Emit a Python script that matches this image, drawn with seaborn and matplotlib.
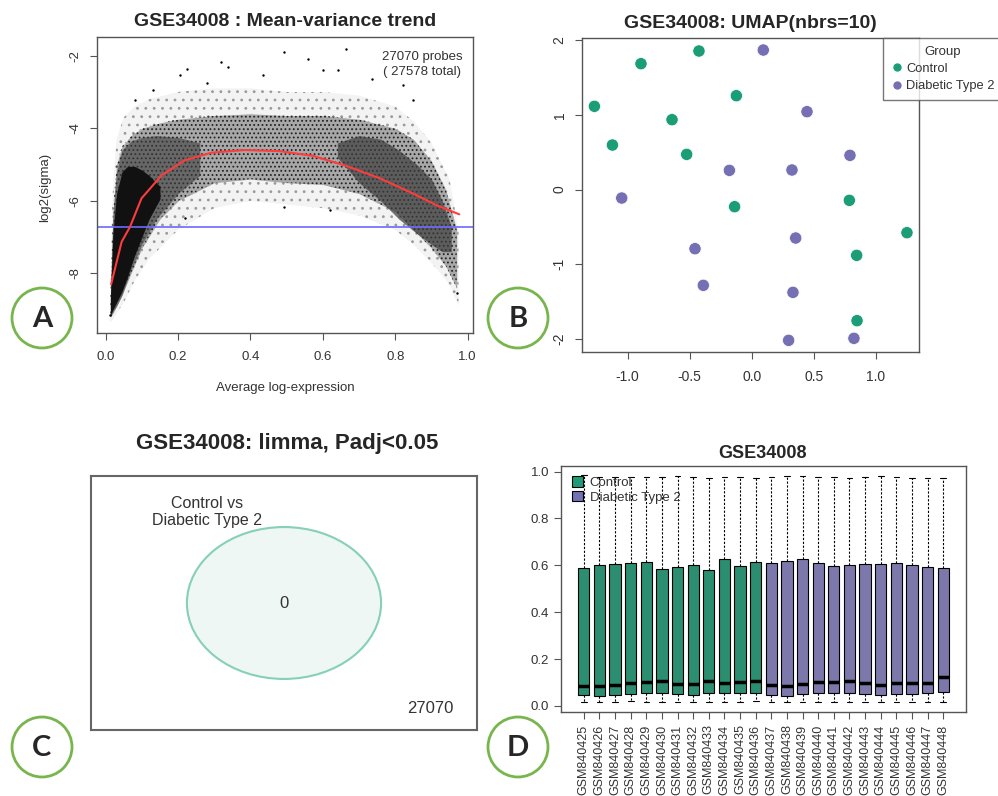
import matplotlib
matplotlib.use("Agg")
import matplotlib.pyplot as plt
from matplotlib.patches import Circle, Ellipse, Patch
from matplotlib.lines import Line2D
import seaborn as sns
import pandas as pd

W, H = 998, 796
GREEN = "#1b9e77"
PURPLE = "#7570b3"

# ---- A: mean-variance trend ----
trend_x = [0.015, 0.044, 0.067, 0.099, 0.155, 0.219, 0.293, 0.385, 0.481, 0.573,
           0.666, 0.758, 0.850, 0.914, 0.977]
trend_y = [-8.30, -7.13, -6.72, -5.93, -5.29, -4.88, -4.67, -4.60, -4.63, -4.76,
           -5.04, -5.38, -5.80, -6.12, -6.37]
flat_level = -6.72

# point cloud drawn as density bands (sparse / main / denser / densest)
outer_x = [0.012, 0.018, 0.03, 0.05, 0.08, 0.12, 0.2, 0.3, 0.4, 0.5, 0.6, 0.7, 0.8, 0.85, 0.9, 0.95, 0.975]
outer_hi = [-9.0, -6.0, -4.3, -3.7, -3.4, -3.2, -3.0, -2.9, -2.9, -3.0, -3.0, -3.1, -3.4, -3.8, -4.4, -5.4, -6.8]
outer_lo = [-9.35, -9.3, -9.1, -8.8, -8.2, -7.6, -6.8, -6.2, -6.0, -6.1, -6.2, -6.4, -6.8, -7.2, -7.7, -8.3, -8.9]
main_x = [0.013, 0.02, 0.03, 0.045, 0.07, 0.1, 0.15, 0.2, 0.3, 0.4, 0.5, 0.6, 0.7, 0.8, 0.85, 0.9, 0.94, 0.97]
main_hi = [-8.6, -6.3, -5.0, -4.5, -4.2, -4.0, -3.85, -3.75, -3.65, -3.6, -3.65, -3.65, -3.75, -4.0, -4.3, -4.9, -5.7, -6.8]
main_lo = [-9.2, -9.1, -8.9, -8.6, -8.0, -7.3, -6.5, -6.0, -5.5, -5.4, -5.5, -5.55, -5.8, -6.3, -6.8, -7.3, -7.8, -8.4]
dense_x = [0.013, 0.02, 0.03, 0.045, 0.07, 0.1, 0.14, 0.2, 0.26]
dense_hi = [-8.6, -6.4, -5.2, -4.6, -4.35, -4.25, -4.2, -4.25, -4.4]
dense_lo = [-9.2, -9.05, -8.9, -8.6, -7.9, -7.2, -6.5, -5.8, -5.3]
left_x = [0.013, 0.02, 0.03, 0.045, 0.06, 0.08, 0.1, 0.12, 0.15]
left_hi = [-8.7, -6.9, -5.8, -5.2, -5.05, -5.05, -5.15, -5.3, -5.6]
left_lo = [-9.15, -9.0, -8.8, -8.5, -8.1, -7.5, -7.0, -6.5, -5.95]
right_x = [0.64, 0.70, 0.76, 0.81, 0.86, 0.9, 0.93, 0.955]
right_hi = [-4.4, -4.2, -4.3, -4.6, -5.0, -5.4, -6.0, -6.7]
right_lo = [-4.8, -5.5, -6.0, -6.5, -6.9, -7.2, -7.4, -7.4]
stray_x = [0.493, 0.663, 0.601, 0.560, 0.320, 0.339, 0.224, 0.205, 0.822, 0.081, 0.131,
           0.643, 0.435, 0.735, 0.279, 0.850, 0.219, 0.492, 0.619, 0.970, 0.012]
stray_y = [-1.90, -1.81, -2.40, -2.08, -2.17, -2.31, -2.36, -2.54, -2.81, -3.23, -2.95,
           -2.40, -2.54, -2.63, -2.76, -3.23, -6.48, -6.17, -6.26, -8.55, -9.15]

# ---- B: UMAP ----
ctrl_x = [-0.426, -0.893, -1.268, -0.125, -0.643, -1.123, -0.525, -0.139, 0.785, 1.249, 0.844, 0.847]
ctrl_y = [1.853, 1.683, 1.113, 1.255, 0.934, 0.595, 0.470, -0.230, -0.145, -0.578, -0.881, -1.755]
dia_x = [0.092, 0.444, 0.790, -0.181, 0.323, -1.048, 0.353, -0.458, -0.391, 0.331, 0.296, 0.822]
dia_y = [1.866, 1.041, 0.457, 0.256, 0.261, -0.114, -0.649, -0.792, -1.282, -1.376, -2.018, -1.991]

# ---- C: venn ----
venn_label = "Control vs\nDiabetic Type 2"
venn_inside = "0"
venn_outside = "27070"

# ---- D: boxplot stats per sample ----
samples = ["GSM840425", "GSM840426", "GSM840427", "GSM840428", "GSM840429", "GSM840430",
           "GSM840431", "GSM840432", "GSM840433", "GSM840434", "GSM840435", "GSM840436",
           "GSM840437", "GSM840438", "GSM840439", "GSM840440", "GSM840441", "GSM840442",
           "GSM840443", "GSM840444", "GSM840445", "GSM840446", "GSM840447", "GSM840448"]
groups = ["Control"] * 12 + ["Diabetic Type 2"] * 12
whisk_lo = [0.016, 0.015, 0.016, 0.020, 0.017, 0.017, 0.016, 0.016, 0.017, 0.017, 0.017, 0.020,
            0.016, 0.016, 0.017, 0.018, 0.015, 0.017, 0.017, 0.017, 0.017, 0.017, 0.018, 0.017]
q1 = [0.047, 0.044, 0.046, 0.051, 0.053, 0.055, 0.050, 0.047, 0.054, 0.054, 0.055, 0.057,
      0.047, 0.044, 0.050, 0.053, 0.053, 0.055, 0.051, 0.047, 0.050, 0.051, 0.053, 0.061]
med = [0.087, 0.083, 0.091, 0.097, 0.101, 0.105, 0.094, 0.092, 0.108, 0.098, 0.104, 0.105,
       0.088, 0.083, 0.094, 0.101, 0.100, 0.105, 0.098, 0.088, 0.097, 0.097, 0.097, 0.124]
q3 = [0.590, 0.602, 0.606, 0.609, 0.616, 0.583, 0.595, 0.602, 0.580, 0.626, 0.598, 0.613,
      0.610, 0.617, 0.625, 0.609, 0.598, 0.600, 0.607, 0.607, 0.612, 0.603, 0.593, 0.588]
whisk_hi = [0.985, 0.976, 0.976, 0.976, 0.976, 0.976, 0.983, 0.976, 0.974, 0.979, 0.976, 0.974,
            0.979, 0.981, 0.981, 0.979, 0.976, 0.974, 0.979, 0.983, 0.979, 0.974, 0.974, 0.974]

sns.set_theme(style="ticks")
plt.rcParams["font.family"] = ["Liberation Sans", "DejaVu Sans"]
plt.rcParams["axes.unicode_minus"] = False
plt.rcParams["hatch.linewidth"] = 0.8

fig = plt.figure(figsize=(W / 100, H / 100), dpi=100)


def px_box(l, t, r, b):
    return [l / W, 1 - b / H, (r - l) / W, (b - t) / H]


def r_style(ax):
    for s in ax.spines.values():
        s.set_visible(True)
        s.set_color("#555555")
        s.set_linewidth(1.0)
    ax.tick_params(direction="out", length=5, width=0.8, color="#555555",
                   labelsize=9.5, labelcolor="#333333")


# panel A
axA = fig.add_axes(px_box(97, 37, 473, 333))
axA.fill_between(outer_x, outer_lo, outer_hi, facecolor="#f3f3f3", edgecolor="#9a9a9a",
                 hatch="..", linewidth=0)
axA.fill_between(main_x, main_lo, main_hi, color="#a8a8a8", linewidth=0)
axA.fill_between(main_x, main_lo, main_hi, facecolor="none", edgecolor="#222222",
                 hatch="....", linewidth=0)
axA.fill_between(dense_x, dense_lo, dense_hi, color="#3c3c3c", linewidth=0, alpha=0.6)
axA.fill_between(right_x, right_lo, right_hi, color="#3c3c3c", linewidth=0, alpha=0.7)
axA.fill_between(left_x, left_lo, left_hi, color="#111111", linewidth=0)
sns.scatterplot(x=stray_x, y=stray_y, color="black", s=3, linewidth=0, ax=axA)
axA.axhline(flat_level, color="#6a6aff", linewidth=1.2)
sns.lineplot(x=trend_x, y=trend_y, color="#ff3b3b", linewidth=1.5, ax=axA)
axA.set_xlim(-0.024, 1.015)
axA.set_ylim(-9.64, -1.485)
axA.set_xticks([0, 0.2, 0.4, 0.6, 0.8, 1.0])
axA.set_xticklabels(["0.0", "0.2", "0.4", "0.6", "0.8", "1.0"])
axA.set_yticks([-2, -4, -6, -8])
axA.set_yticklabels(["-2", "-4", "-6", "-8"], rotation=90, va="center")
r_style(axA)
axA.tick_params(axis="x", pad=8)
axA.tick_params(axis="y", pad=6)

# panel B
axB = fig.add_axes(px_box(582, 38, 919, 352))
umap = pd.DataFrame({"x": ctrl_x + dia_x, "y": ctrl_y + dia_y,
                     "Group": ["Control"] * len(ctrl_x) + ["Diabetic Type 2"] * len(dia_x)})
sns.scatterplot(data=umap, x="x", y="y", hue="Group", palette=[GREEN, PURPLE],
                s=78, edgecolor="white", linewidth=0.5, legend=False, ax=axB)
axB.set_xlim(-1.368, 1.346)
axB.set_ylim(-2.174, 2.027)
axB.set_xticks([-1, -0.5, 0, 0.5, 1])
axB.set_xticklabels(["-1.0", "-0.5", "0.0", "0.5", "1.0"])
axB.set_yticks([-2, -1, 0, 1, 2])
axB.set_yticklabels(["-2", "-1", "0", "1", "2"], rotation=90, va="center")
axB.set_xlabel("")
axB.set_ylabel("")
r_style(axB)
axB.tick_params(labelsize=10)
axB.tick_params(axis="x", pad=8)
axB.tick_params(axis="y", pad=6)
hB = [Line2D([], [], marker="o", linestyle="", color=GREEN, markersize=5),
      Line2D([], [], marker="o", linestyle="", color=PURPLE, markersize=5)]
legB = axB.legend(hB, ["Control", "Diabetic Type 2"], title="Group", loc="upper left",
                  bbox_to_anchor=((883 - 582) / 337, 1.0), frameon=True, fancybox=False,
                  edgecolor="#555555", fontsize=9.3, title_fontsize=9.5, borderaxespad=0,
                  borderpad=0.6, handletextpad=0.2, handlelength=1.0, labelspacing=0.4)
legB.get_frame().set_linewidth(1.0)
for t in legB.get_texts():
    t.set_color("#333333")
legB.get_title().set_color("#333333")

# panel C
axC = fig.add_axes(px_box(91, 476, 477, 730))
axC.set_xlim(0, 1)
axC.set_ylim(0, 1)
axC.set_xticks([])
axC.set_yticks([])
axC.add_patch(Ellipse((0.5, 0.5), 0.503, 0.598, facecolor="#eef7f3", edgecolor="#85d0b7", linewidth=1.5))
axC.text(0.5, 0.5, venn_inside, ha="center", va="center", fontsize=12, color="#333333")
axC.text(0.30, 0.857, venn_label, ha="center", va="center", fontsize=11.5, color="#333333",
         linespacing=1.15)
axC.text(0.88, 0.083, venn_outside, ha="center", va="center", fontsize=12, color="#333333")
for s in axC.spines.values():
    s.set_color("#666666")
    s.set_linewidth(1.5)

# panel D
axD = fig.add_axes(px_box(561, 466, 966, 712))
stats = pd.DataFrame({"sample": samples, "group": groups, "lo": whisk_lo, "q1": q1,
                      "med": med, "q3": q3, "hi": whisk_hi})
expr = stats.melt(id_vars=["sample", "group"], value_name="value")
sns.boxplot(data=expr, x="sample", y="value", hue="group", order=samples,
            palette=[GREEN, PURPLE], dodge=False, width=0.72, linecolor="black",
            linewidth=0.8, whiskerprops=dict(linestyle=(0, (2, 1.5))),
            medianprops=dict(linewidth=2.5), legend=False, ax=axD)
axD.set_xlim(-1.46, 24.46)
axD.set_ylim(-0.026, 1.024)
axD.set_yticks([0, 0.2, 0.4, 0.6, 0.8, 1.0])
axD.set_yticklabels(["0.0", "0.2", "0.4", "0.6", "0.8", "1.0"])
axD.set_xlabel("")
axD.set_ylabel("")
r_style(axD)
axD.tick_params(axis="x", labelrotation=90, labelsize=9, pad=4)
hD = [Patch(facecolor=GREEN, edgecolor="black", linewidth=0.8),
      Patch(facecolor=PURPLE, edgecolor="black", linewidth=0.8)]
legD = axD.legend(hD, ["Control", "Diabetic Type 2"], loc="upper left",
                  bbox_to_anchor=(0.015, 0.979), frameon=False, fontsize=9.5,
                  handlelength=0.8, handleheight=0.8, handletextpad=0.5,
                  labelspacing=0.15, borderaxespad=0)
for t in legD.get_texts():
    t.set_color("#333333")

# overlay: titles, axis labels, panel letters
ov = fig.add_axes([0, 0, 1, 1])
ov.set_xlim(0, W)
ov.set_ylim(H, 0)
ov.axis("off")
ov.text(285, 22, "GSE34008 : Mean-variance trend", ha="center", va="center", fontsize=14, fontweight="bold")
ov.text(750, 24, "GSE34008: UMAP(nbrs=10)", ha="center", va="center", fontsize=14, fontweight="bold")
ov.text(287, 443, "GSE34008: limma, Padj<0.05", ha="center", va="center", fontsize=16, fontweight="bold")
ov.text(763, 453, "GSE34008", ha="center", va="center", fontsize=13, fontweight="bold")
ov.text(45, 187, "log2(sigma)", ha="center", va="center", rotation=90, fontsize=9.5, color="#333333")
ov.text(285, 388, "Average log-expression", ha="center", va="center", fontsize=9.5, color="#333333")
ov.text(422, 57, "27070 probes", ha="center", va="center", fontsize=9.5, color="#333333")
ov.text(422, 72, "( 27578 total)", ha="center", va="center", fontsize=9.5, color="#333333")

for lab, cx, cy in [("A", 42, 318), ("B", 518, 318), ("C", 42, 747), ("D", 518, 747)]:
    ov.add_patch(Circle((cx, cy), 30, fill=False, edgecolor="#78b54d", linewidth=2))
    ov.text(cx, cy + 1, lab, ha="center", va="center", fontsize=21, fontweight="bold",
            family=["Lato", "DejaVu Sans"])

fig.savefig("out.png", dpi=100)
